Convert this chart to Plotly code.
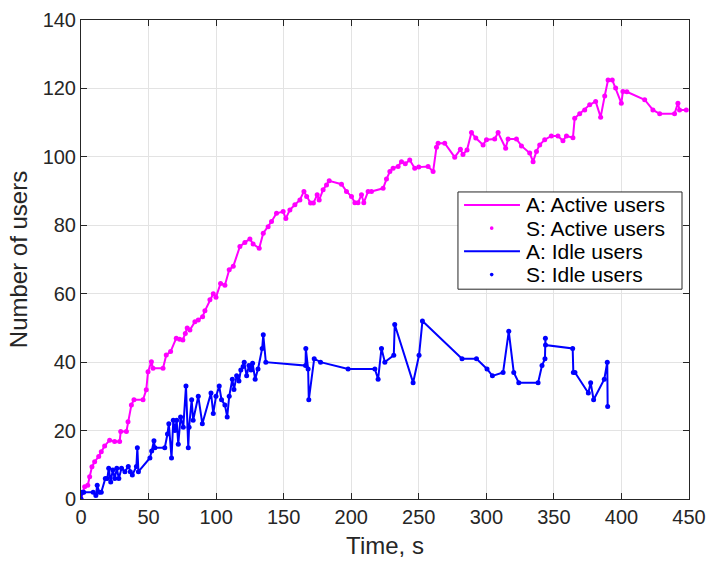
import plotly.graph_objects as go

# Idle users (time in s, count)
idle_t = [0, 1, 2, 9, 11, 12, 13.5, 15, 18, 19.5, 20.5, 22, 23.5, 25, 26.5, 28, 30,
          32.5, 35, 36.5, 38, 41, 41.7, 42.5, 51, 52.3, 54, 54.7, 62, 64, 65, 67,
          68.3, 69.5, 70.8, 72, 73.7, 75.7, 77.7, 79.4, 80, 81.9, 83, 86.8, 89.8,
          96.2, 97.9, 99.9, 102.3, 104, 106.5, 108.2, 109.7, 112, 113.2, 115.2,
          116.9, 118.3, 120, 120.8, 122.6, 124.3, 125.8, 127, 128.9, 131, 134.1,
          134.9, 136.8, 166.2, 166.4, 168.1, 168.6, 172.6, 177.3, 197.7, 217.5,
          219.9, 222.4, 224.9, 231.5, 232.2, 245.8, 250.2, 252.7, 282, 292.7,
          300.5, 304.5, 312.4, 316.6, 320.3, 324, 338.3, 341.2, 343.4, 343.7,
          343.8, 363.9, 364.4, 365.6, 375.5, 377.2, 379.4, 387.3, 389.5, 389.8]
idle_n = [0, 2, 2, 2, 1, 4, 2, 2, 6, 6, 9, 5, 8.5, 6, 9, 6, 9,
          8, 9.5, 8, 7, 9.5, 15, 8, 12, 14, 17, 15, 15, 19, 22, 12,
          23, 20, 23, 16, 24, 21, 33, 15, 21, 29, 23, 30, 22,
          31, 25, 30, 33, 29, 27.5, 24, 30, 35, 32, 36,
          34.5, 37.7, 38.7, 40, 36, 39, 37.7, 39.7, 35, 38, 44,
          48, 40, 39, 44, 38, 29, 41, 40, 38, 38,
          35, 44, 40, 42, 51, 34, 42, 52, 41, 41,
          38, 36, 37, 49, 37, 34, 34, 39, 41, 47,
          45, 44, 37, 37, 31, 34, 29, 35, 40, 27]

# Active users (time in s, count)
active_t = [0, 1.5, 2.7, 5, 6.4, 8.1, 10.1, 13.1, 15, 17.5, 21.2, 24.9, 28.6, 29.4,
            33.6, 34.8, 37.3, 39.2, 45.9, 48.3, 49.6, 52.1, 53.3, 60.7, 63.1, 66.3,
            70.5, 73, 75.4, 77.2, 78.6, 80.6, 84.3, 86.8, 90, 91.7, 95.4, 97.9,
            99.9, 103.3, 106.5, 109.7, 112.7, 117.6, 121.3, 125, 127.4, 131.9,
            134.9, 138.5, 141, 144.7, 149.6, 151.6, 154.6, 158.3, 162, 165, 167,
            169.9, 172, 174.8, 176.3, 179.2, 181.7, 183.7, 192.8, 196.5, 200.2,
            202.7, 205, 207.6, 209.3, 212.5, 215, 223.6, 226.1, 228.6, 231, 234.7,
            237.2, 240, 243.3, 247, 250, 256.9, 260.6, 263.1, 264.3, 269.2, 276.6,
            280.8, 282.7, 285.7, 289, 292.2, 297.6, 300.1, 306.2, 308.7, 314.3,
            316.1, 322.3, 326, 332.1, 334.6, 337.1, 339.5, 343.2, 348.1, 353,
            356.7, 359.3, 364.1, 365.4, 369.1, 372.8, 376.5, 380.9, 384.6, 387.6,
            390.1, 393.2, 395.7, 399.9, 401.1, 404, 417.2, 423.3, 428.3, 439.3,
            441.8, 443, 448]
active_n = [0, 2, 3.6, 4, 6.5, 9.4, 10.9, 12.4, 13.8, 15.5, 17.2, 16.8, 16.8, 19.7,
            19.7, 22.6, 27.5, 29, 29, 31.9, 37.2, 40.1, 38.2, 38.2, 42.1, 43.1,
            47, 46.7, 46.5, 48.4, 50, 49.4, 51.8, 52.3, 53.3, 55, 58.2, 60,
            59, 63, 62.5, 67, 68, 73.8, 75, 76, 74.5, 73.3,
            77.7, 79.6, 81.1, 83.5, 84, 82, 84.5, 86, 87.4, 89.9, 88.4,
            86.5, 86.5, 88.9, 87.4, 90.4, 91.8, 93, 92, 89.9, 88.4,
            86.6, 86.6, 88.9, 86.6, 89.9, 89.9, 90.8, 93.5, 95.7, 96.7, 97.2,
            98.6, 98, 99.1, 96.7, 97, 97.2, 95.7, 102.8, 104, 104, 99.9,
            102.2, 100.7, 102, 107.1, 105.5, 103.5, 105, 105.2, 107.1, 102.5,
            105.2, 105.2, 103.2, 101.1, 98.6, 101.6, 103.5, 105, 106.1, 106.1,
            104.7, 106.1, 105.6, 111.3, 112.6, 113.7, 115.2, 116.2, 111.6, 117.8,
            122.5, 122.5, 120.1, 115.7, 119.1, 119, 116.7, 113.7, 112.6, 112.6,
            115.7, 113.7, 113.7]

x_ticks = [0, 50, 100, 150, 200, 250, 300, 350, 400, 450]
y_ticks = [0, 20, 40, 60, 80, 100, 120, 140]

legend_labels = ["A: Active users", "S: Active users", "A: Idle users", "S: Idle users"]
legend_kinds = ["line", "dot", "line", "dot"]

MAGENTA = "#FF00FF"
BLUE = "#0000FF"
AXIS = "#262626"
FONT = "Liberation Sans, Arial, sans-serif"

fig = go.Figure()
fig.add_trace(go.Scatter(x=active_t, y=active_n, mode="lines", name=legend_labels[0],
                         line=dict(color=MAGENTA, width=2)))
fig.add_trace(go.Scatter(x=active_t, y=active_n, mode="markers", name=legend_labels[1],
                         marker=dict(color=MAGENTA, size=5)))
fig.add_trace(go.Scatter(x=idle_t, y=idle_n, mode="lines", name=legend_labels[2],
                         line=dict(color=BLUE, width=2)))
fig.add_trace(go.Scatter(x=idle_t, y=idle_n, mode="markers", name=legend_labels[3],
                         marker=dict(color=BLUE, size=5)))

axis_common = dict(
    showline=True, linecolor=AXIS, linewidth=1, mirror="ticks",
    ticks="inside", ticklen=6, tickcolor=AXIS, tickwidth=1,
    showgrid=True, gridcolor="#E3E3E3", gridwidth=1, zeroline=False,
    tickfont=dict(family=FONT, size=20, color=AXIS), automargin=False,
)

fig.update_xaxes(range=[0, 450], tickvals=x_ticks,
                 title=dict(text="Time, s", font=dict(family=FONT, size=24, color=AXIS),
                            standoff=10),
                 **axis_common)
fig.update_yaxes(range=[0, 140], tickvals=y_ticks,
                 title=dict(text="Number of users", font=dict(family=FONT, size=24, color=AXIS),
                            standoff=8),
                 **axis_common)

# Compact boxed legend (MATLAB style), drawn in plot-area paper coordinates
leg_x0, leg_x1 = 0.620, 0.9885
leg_top, row_h = 0.641, 0.0485
colors = [MAGENTA, MAGENTA, BLUE, BLUE]
shapes = [dict(type="rect", xref="paper", yref="paper",
               x0=leg_x0, x1=leg_x1, y0=leg_top - 4 * row_h - 0.009, y1=leg_top,
               line=dict(color=AXIS, width=1), fillcolor="white", layer="above")]
annotations = []
for i, (lab, kind, col) in enumerate(zip(legend_labels, legend_kinds, colors)):
    yc = leg_top - 0.027 - i * row_h
    if kind == "line":
        shapes.append(dict(type="line", xref="paper", yref="paper",
                           x0=0.630, x1=0.722, y0=yc, y1=yc,
                           line=dict(color=col, width=2), layer="above"))
    else:
        shapes.append(dict(type="circle", xref="paper", yref="paper",
                           x0=0.6755 - 0.0030, x1=0.6755 + 0.0030,
                           y0=yc - 0.0038, y1=yc + 0.0038,
                           line=dict(color=col, width=0), fillcolor=col, layer="above"))
    annotations.append(dict(xref="paper", yref="paper", x=0.729, y=yc,
                            xanchor="left", yanchor="middle", text=lab, showarrow=False,
                            font=dict(family=FONT, size=21, color="black")))

fig.update_layout(
    width=712, height=561,
    margin=dict(l=81, r=23, t=20, b=62),
    paper_bgcolor="white", plot_bgcolor="white",
    showlegend=False,
    shapes=shapes, annotations=annotations,
)

fig.write_html("out.html")
